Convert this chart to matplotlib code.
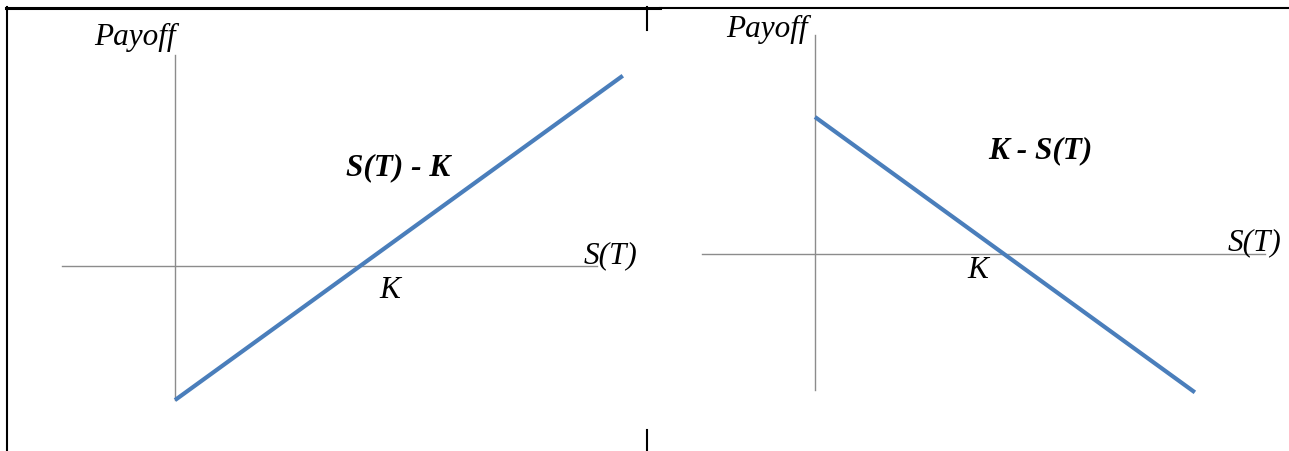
import matplotlib.pyplot as plt
from matplotlib.lines import Line2D

# payoff data (K = 50)
K = 50
call_s = [0, 121]
call_payoff = [-50, 71]
put_s = [0, 100.5]
put_payoff = [50, -50.5]

W, H = 1289, 451
fig = plt.figure(figsize=(W / 100, H / 100), dpi=100)
plt.rcParams['font.family'] = ['Liberation Serif', 'DejaVu Serif']

blue = '#4a7ebb'
grey = '#8c8c8c'
fs = 22.5

# left panel: call
ax1 = fig.add_axes([0, 0, 645 / W, 1])
ax1.set_xlim(-47.3, 127.0)
ax1.set_ylim(-69.0, 99.25)
ax1.plot([-30.5, 114.1], [0, 0], color=grey, lw=1.0)
ax1.plot([0, 0], [-50, 78.7], color=grey, lw=1.0)
ax1.plot(call_s, call_payoff, color=blue, lw=3.0, solid_capstyle='butt')
ax1.text(-10.8, 85.4, 'Payoff', style='italic', fontsize=fs, ha='center', va='center')
ax1.text(117.6, 4.0, 'S(T)', style='italic', fontsize=fs, ha='center', va='center')
ax1.text(58.1, -9.0, 'K', style='italic', fontsize=fs, ha='center', va='center')
ax1.text(60.3, 36.5, 'S(T) - K', style='italic', weight='bold', fontsize=fs,
         ha='center', va='center')
ax1.axis('off')

# right panel: put
ax2 = fig.add_axes([650 / W, 0, (W - 650) / W, 1])
ax2.set_xlim(-43.65, 125.4)
ax2.set_ylim(-71.9, 92.7)
ax2.plot([-29.9, 119.0], [0, 0], color=grey, lw=1.0)
ax2.plot([0, 0], [-49.6, 79.9], color=grey, lw=1.0)
ax2.plot(put_s, put_payoff, color=blue, lw=3.0, solid_capstyle='butt')
ax2.text(-12.7, 81.8, 'Payoff', style='italic', fontsize=fs, ha='center', va='center')
ax2.text(116.4, 4.0, 'S(T)', style='italic', fontsize=fs, ha='center', va='center')
ax2.text(43.1, -6.2, 'K', style='italic', fontsize=fs, ha='center', va='center')
ax2.text(59.5, 37.6, 'K - S(T)', style='italic', weight='bold', fontsize=fs,
         ha='center', va='center')
ax2.axis('off')

# table borders
def fline(x0, y0, x1, y1, lw):
    fig.add_artist(Line2D([x0 / W, x1 / W], [1 - y0 / H, 1 - y1 / H],
                          transform=fig.transFigure, color='black', lw=lw))

fline(6, 7.5, 660, 7.5, 2.2)
fline(660, 7.5, W, 7.5, 1.5)
fline(7, 7, 7, H, 1.5)
fline(647, 7, 647, 30, 1.5)
fline(647, 430, 647, H, 1.5)

fig.savefig('out.png', dpi=100)
